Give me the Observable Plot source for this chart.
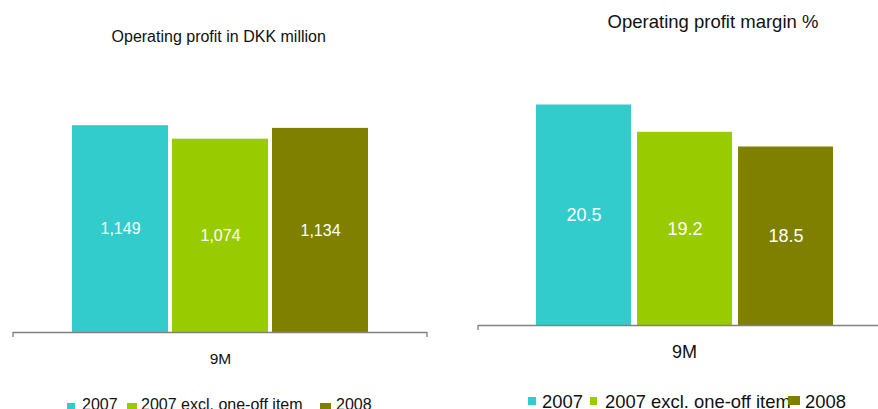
<!DOCTYPE html>
<html>
<head>
<meta charset="utf-8">
<script src="https://cdn.jsdelivr.net/npm/d3@7"></script>
<script src="https://cdn.jsdelivr.net/npm/@observablehq/plot@0.6"></script>
<style>
  html, body { margin: 0; padding: 0; background: #fff; }
  #wrap { position: relative; width: 878px; height: 409px; overflow: hidden; font-family: "Liberation Sans", Arial, sans-serif; color: #111; }
  .panel { position: absolute; top: 0; }
  .panel svg { max-width: none !important; display: block; }
  .title { position: absolute; white-space: nowrap; line-height: 1; transform: translateX(-50%); }
  .leg { position: absolute; white-space: nowrap; line-height: 1; }
  .sw { position: absolute; }
</style>
</head>
<body>
<div id="wrap"></div>
<script>
// ---- data ----
const series = ["2007", "2007 excl. one-off item", "2008"];
const periods = ["9M"];
const profitDKK = [1149, 1074, 1134];
const marginPct = [20.5, 19.2, 18.5];
const colors = ["#33CCCC", "#99CC00", "#808000"];
const titles = ["Operating profit in DKK million", "Operating profit margin %"];

// ---- layout / styles ----
const layouts = [
  {values: profitDKK, fmt: d3.format(","), svgLeft: 0, width: 440, height: 372,
   marginLeft: 13, marginRight: 13, marginTop: 26, marginBottom: 40,
   domain: [0, 1700], base: 0, pInner: 0.04, pOuter: 0.57,
   labelFont: 16, axisFont: 15.5, tickPadding: 20,
   title: titles[0], titleFont: 16, titleX: 218.7, titleTop: 28.5,
   legendFont: 16, legendTop: 397, legendX: [67, 127, 320], textX: [82, 141, 336],
   swW: [7.5, 10, 11], swH: [8, 8, 8], swTop: [402.5, 402.5, 402.5]},
  {values: marginPct, fmt: d3.format(".1f"), svgLeft: 440, width: 450, height: 370,
   marginLeft: 38, marginRight: 0, marginTop: 31, marginBottom: 45,
   domain: [10, 24], base: 10, pInner: 0.06, pOuter: 0.564,
   labelFont: 18, axisFont: 18, tickPadding: 19.5,
   title: titles[1], titleFont: 18.5, titleX: 713, titleTop: 12.5,
   legendFont: 18.4, legendTop: 393, legendX: [528, 590, 788.3], textX: [542, 605, 805],
   swW: [7.5, 7, 11.7], swH: [7.5, 7.5, 9], swTop: [397, 397, 396]}
];

const wrap = document.getElementById("wrap");

layouts.forEach(L => {
  const rows = series.map((s, i) => ({period: periods[0], series: s, value: L.values[i]}));
  const base = L.base;
  const endTicks = (index, scales, values, dims) => {
    const g = d3.create("svg:g").attr("stroke", "#808080").attr("stroke-width", 1.3);
    const y0 = scales.y(base);
    [dims.marginLeft, dims.width - dims.marginRight].forEach(x => {
      g.append("line").attr("x1", x).attr("x2", x).attr("y1", y0).attr("y2", y0 + 5);
    });
    return g.node();
  };
  const chart = Plot.plot({
    width: L.width, height: L.height,
    marginLeft: L.marginLeft, marginRight: L.marginRight,
    marginTop: L.marginTop, marginBottom: L.marginBottom,
    style: {fontSize: L.axisFont + "px", fontFamily: "'Liberation Sans', Arial, sans-serif", color: "#111", background: "transparent", maxWidth: "none"},
    fx: {domain: periods, padding: 0, axis: "bottom", tickSize: 0, tickPadding: L.tickPadding, label: null},
    x: {domain: series, axis: null, paddingInner: L.pInner, paddingOuter: L.pOuter},
    y: {domain: L.domain, axis: null},
    color: {domain: series, range: colors},
    marks: [
      Plot.barY(rows, {fx: "period", x: "series", y1: d => base, y2: "value", fill: "series"}),
      Plot.text(rows, {fx: "period", x: "series", y: d => (base + d.value) / 2, text: d => L.fmt(d.value),
        fill: "white", fontSize: L.labelFont}),
      Plot.ruleY([base], {stroke: "#808080", strokeWidth: 1.3}),
      endTicks
    ]
  });
  const holder = document.createElement("div");
  holder.className = "panel";
  holder.style.left = L.svgLeft + "px";
  holder.style.width = L.width + "px";
  holder.style.height = L.height + "px";
  holder.appendChild(chart);
  wrap.appendChild(holder);

  const t = document.createElement("div");
  t.className = "title";
  t.textContent = L.title;
  t.style.left = L.titleX + "px";
  t.style.top = L.titleTop + "px";
  t.style.fontSize = L.titleFont + "px";
  wrap.appendChild(t);

  series.forEach((s, i) => {
    const sw = document.createElement("div");
    sw.className = "sw";
    sw.style.left = L.legendX[i] + "px";
    sw.style.top = L.swTop[i] + "px";
    sw.style.width = L.swW[i] + "px";
    sw.style.height = L.swH[i] + "px";
    sw.style.background = colors[i];
    const lab = document.createElement("div");
    lab.className = "leg";
    lab.textContent = s;
    lab.style.left = L.textX[i] + "px";
    lab.style.top = L.legendTop + "px";
    lab.style.fontSize = L.legendFont + "px";
    wrap.appendChild(lab);
    wrap.appendChild(sw);
  });
});
</script>
</body>
</html>
